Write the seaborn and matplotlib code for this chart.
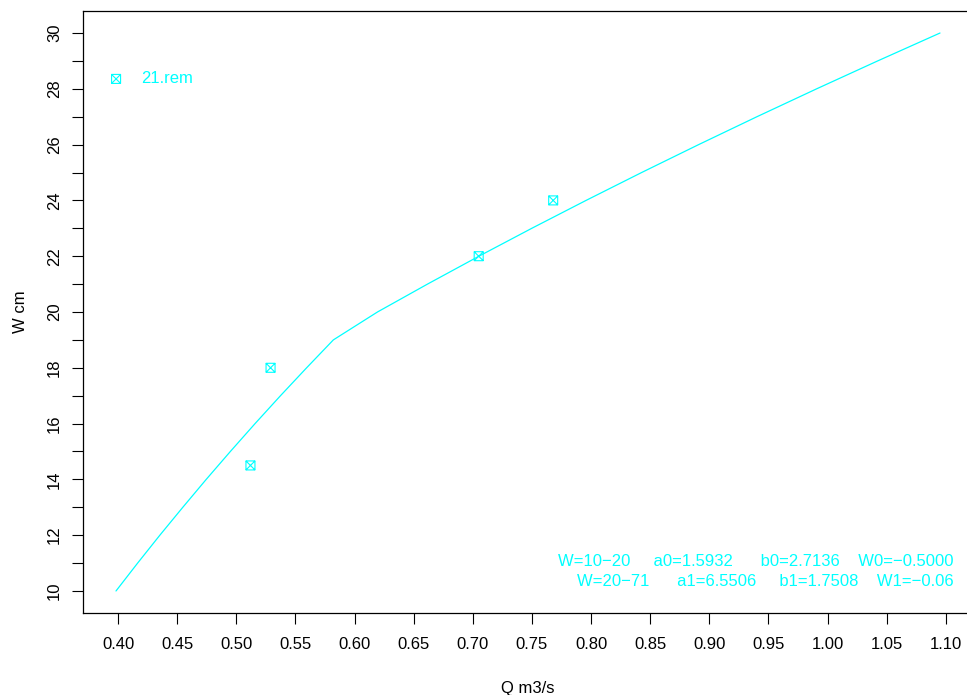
import matplotlib
matplotlib.use("Agg")
import matplotlib.pyplot as plt
from matplotlib.path import Path
from matplotlib.ticker import MultipleLocator
import pandas as pd
import seaborn as sns

# Curva de calibracion W (cm) -> Q (m3/s)
curva_w = [10, 11, 12, 13, 14, 15, 16, 17, 18, 19,
           20, 21, 22, 23, 24, 25, 26, 27, 28, 29, 30]
curva_q = [0.3983, 0.4166, 0.4354, 0.4548, 0.4746, 0.4950, 0.5159, 0.5374, 0.5595, 0.5821,
           0.6194, 0.6617, 0.7052, 0.7499, 0.7958, 0.8428, 0.8910, 0.9403, 0.9908, 1.0424, 1.0951]

# Aforos medidos
serie_nombre = "21.rem"
aforo_q = [0.512, 0.529, 0.705, 0.768]
aforo_w = [14.5, 18.0, 22.0, 24.0]

# Texto de coeficientes
linea_1 = "W=10\u221220     a0=1.5932      b0=2.7136    W0=\u22120.5000"
linea_2 = "W=20\u221271      a1=6.5506     b1=1.7508    W1=\u22120.06"

CIAN = "#00FFFF"

df_curva = pd.DataFrame({"Q": curva_q, "W": curva_w})
df_aforo = pd.DataFrame({"Q": aforo_q, "W": aforo_w})

sns.set_theme(style="white")
plt.rcParams['font.family'] = ['Liberation Sans', 'DejaVu Sans']

fig = plt.figure(figsize=(9.67, 6.95), dpi=100)
ax = fig.add_axes([83 / 967, 81.7 / 695, 890 / 967, 602.6 / 695])

# marcador tipo R pch=7 (cuadrado con cruz)
marca = Path([(-1, -1), (1, -1), (1, 1), (-1, 1), (-1, -1),
              (-1, -1), (1, 1), (-1, 1), (1, -1)],
             [Path.MOVETO, Path.LINETO, Path.LINETO, Path.LINETO, Path.CLOSEPOLY,
              Path.MOVETO, Path.LINETO, Path.MOVETO, Path.LINETO])

sns.lineplot(data=df_curva, x="Q", y="W", sort=False, estimator=None,
             color=CIAN, linewidth=0.9, ax=ax)
sns.scatterplot(data=df_aforo, x="Q", y="W", marker=marca, s=42,
                color=CIAN, facecolor="none", edgecolor=CIAN, linewidth=0.8,
                label=serie_nombre, legend=False, ax=ax)

ax.set_xlim(0.3704, 1.1230)
ax.set_ylim(9.2, 30.8)
ax.xaxis.set_major_locator(MultipleLocator(0.05))
ax.yaxis.set_major_locator(MultipleLocator(2))
ax.yaxis.set_minor_locator(MultipleLocator(1))
ax.xaxis.set_major_formatter(matplotlib.ticker.FormatStrFormatter('%.2f'))

ax.tick_params(axis='both', which='both', direction='out', length=8, width=0.8,
               color='black', labelsize=12, labelcolor='black')
ax.tick_params(axis='x', pad=9)
ax.tick_params(axis='y', which='both', left=True, pad=7)
ax.tick_params(axis='x', bottom=True)
for lab in ax.get_yticklabels():
    lab.set_rotation(90)
    lab.set_va('center')

for sp in ax.spines.values():
    sp.set_color('black')
    sp.set_linewidth(0.9)

ax.set_xlabel("Q m3/s", fontsize=12, color='black', labelpad=21)
ax.set_ylabel("W cm", fontsize=12, color='black', labelpad=14)

ax.legend(loc='center left', bbox_to_anchor=(0.0278, 0.887), frameon=False,
          handlelength=1.0, handletextpad=1.0, borderpad=0, borderaxespad=0,
          fontsize=12, labelcolor=CIAN)

fig.text(954 / 967, 1 - 562 / 695, linea_1, ha='right', va='center',
         fontsize=12, color=CIAN)
fig.text(954 / 967, 1 - 581 / 695, linea_2, ha='right', va='center',
         fontsize=12, color=CIAN)

fig.savefig("out.png", dpi=100)
